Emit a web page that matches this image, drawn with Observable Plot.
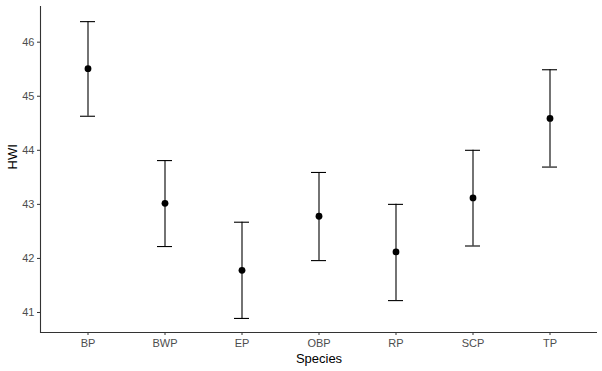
<!DOCTYPE html>
<html>
<head>
<meta charset="utf-8">
<script src="https://cdn.jsdelivr.net/npm/d3@7"></script>
<script src="https://cdn.jsdelivr.net/npm/@observablehq/plot@0.6"></script>
<style>
  html, body { margin: 0; padding: 0; background: #fff; }
  svg { display: block; }
</style>
</head>
<body>
<div id="chart"></div>
<script>
const species = ["BP", "BWP", "EP", "OBP", "RP", "SCP", "TP"];
const means = [45.51, 43.02, 41.78, 42.78, 42.12, 43.12, 44.59];
const lowers = [44.63, 42.22, 40.89, 41.96, 41.22, 42.23, 43.69];
const uppers = [46.38, 43.81, 42.67, 43.59, 43.00, 44.00, 45.49];
const yTicks = [41, 42, 43, 44, 45, 46];
const yDomain = [40.63, 46.66];

const data = species.map((s, i) => ({species: s, mean: means[i], lo: lowers[i], hi: uppers[i]}));

const chart = Plot.plot({
  width: 602,
  height: 371,
  marginLeft: 40,
  marginRight: 5,
  marginTop: 6,
  marginBottom: 39,
  style: {fontFamily: "Liberation Sans, Arial, sans-serif", background: "#fff"},
  x: {type: "band", domain: species, paddingInner: 0.8, paddingOuter: 0.5},
  y: {domain: yDomain},
  marks: [
    Plot.ruleY([yDomain[0]], {stroke: "#333", strokeWidth: 1.1}),
    Plot.frame({anchor: "left", stroke: "#333", strokeWidth: 1.1}),
    Plot.axisY({ticks: yTicks, tickFormat: "d", tickSize: 3, tickPadding: 3, stroke: "#333", color: "#4D4D4D", fontSize: 11, label: null}),
    Plot.axisX({tickSize: 3, tickPadding: 4, stroke: "#333", color: "#4D4D4D", fontSize: 11, label: null}),
    Plot.text(["HWI"], {frameAnchor: "left", dx: -28, rotate: -90, fontSize: 13, fill: "#000"}),
    Plot.text(["Species"], {frameAnchor: "bottom", dy: 30, fontSize: 13, fill: "#000"}),
    Plot.ruleX(data, {x: "species", y1: "lo", y2: "hi", stroke: "#000", strokeWidth: 1.1}),
    Plot.tickY(data, {x: "species", y: "lo", stroke: "#000", strokeWidth: 1.1}),
    Plot.tickY(data, {x: "species", y: "hi", stroke: "#000", strokeWidth: 1.1}),
    Plot.dot(data, {x: "species", y: "mean", r: 3.4, fill: "#000", stroke: null})
  ]
});
document.getElementById("chart").appendChild(chart);
</script>
</body>
</html>
